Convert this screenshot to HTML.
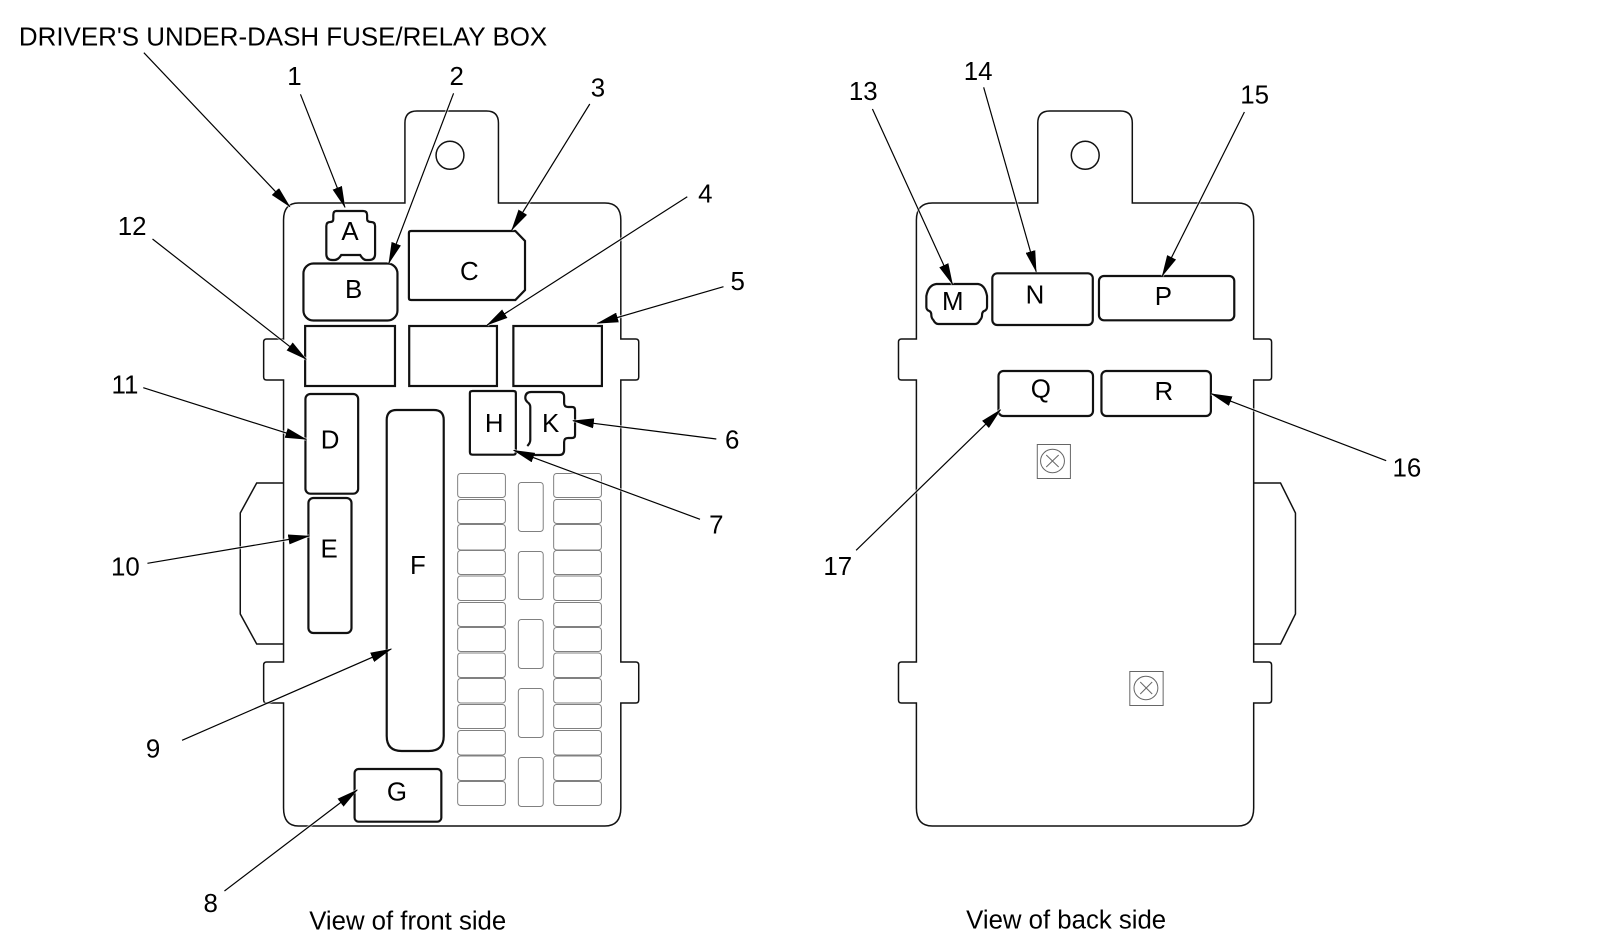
<!DOCTYPE html>
<html>
<head>
<meta charset="utf-8">
<style>
html,body{margin:0;padding:0;background:#fff;}
svg{display:block;}
text{font-family:"Liberation Sans",sans-serif;fill:#000;font-size:26px;text-anchor:middle;}
.st{text-anchor:start;}
.body{fill:none;stroke:#111;stroke-width:1.5;}
.c{fill:none;stroke:#111;stroke-width:2.2;}
.f{fill:none;stroke:#808080;stroke-width:1;}
.s{fill:none;stroke:#666;stroke-width:1;}
.l{stroke:#000;stroke-width:1.2;fill:none;marker-end:url(#ah);}
.h{stroke:#fff;stroke-opacity:.6;stroke-width:3.2;fill:none;}
</style>
</head>
<body>
<svg width="1600" height="941" viewBox="0 0 1600 941" xmlns="http://www.w3.org/2000/svg">
<defs>
<marker id="ah" markerUnits="userSpaceOnUse" markerWidth="22" markerHeight="10" refX="21" refY="5" orient="auto">
<path d="M0,0 L22,5 L0,10 Z" fill="#000"/>
</marker>
</defs>

<!-- FRONT -->
<g transform="scale(0.9949,1)">
<path class="body" d="M300,203 H407 V123 Q407,111 419,111 H489 Q501,111 501,123 V203 H608 Q624,203 624,220 V339 H639 Q642,339 642,342 V377 Q642,380 639,380 H624 V662 H639 Q642,662 642,665 V700 Q642,703 639,703 H624 V808 Q624,826 608,826 H300 Q285,826 285,808 V703 H268 Q265,703 265,700 V665 Q265,662 268,662 H285 V644 H258 L241.500,614 V513 L258,483 H285 V380 H268 Q265,380 265,377 V342 Q265,339 268,339 H285 V220 Q285,203 300,203 Z M285,483 V644"/>
<ellipse class="body" cx="452.300" cy="155.300" rx="14" ry="14"/>

<path class="c" d="M338,211 H365 Q369,211 369,215 V219 Q369,222 373,222 Q377,222 377,226 V254 Q377,260 371,260 H368 Q365,260 362,255 H343 Q340,260 336,260 H334 Q328,260 328,254 V226 Q328,222 332,222 Q335,222 335,219 V215 Q335,211 338,211 Z"/>
<rect class="c" x="305" y="263.500" width="94.500" height="57" rx="10" ry="10"/>
<path class="c" d="M413,231 H518 L527.700,241 V290 L518,300 H413 Q411,300 411,298 V233 Q411,231 413,231 Z"/>
<rect class="c" x="306.700" y="326" width="90.300" height="60"/>
<rect class="c" x="411.300" y="326" width="88.200" height="60"/>
<rect class="c" x="516" y="326" width="89" height="60"/>
<rect class="c" x="307" y="394" width="53" height="99.700" rx="5" ry="5"/>
<rect class="c" x="310" y="498" width="43.300" height="135" rx="5" ry="5"/>
<path class="c" d="M398.700,410 H436 Q446,410 446,420 V736 Q446,751 431,751 H403.700 Q388.700,751 388.700,736 V420 Q388.700,410 398.700,410 Z"/>
<path class="c" d="M475,391 H516 Q518.500,391 518.500,393 V452 Q518.500,454.700 516,454.700 H475 Q472.300,454.700 472.300,452 V393 Q472.300,391 475,391 Z"/>
<path class="c" d="M534,392 H562 Q567,392 567,397 V403 Q567,407 571,407 H575 Q578,407 578,410 V435 Q578,438 575,438 H571 Q567,438 567,442 V450 Q567,455 562,455 H536 M530,446 Q533,443 533,440 V407 Q533,404 530,402 Q528,400 528,398 Q528,392 534,392"/>
<rect class="c" x="356.400" y="769" width="87.200" height="52.700" rx="4" ry="4"/>

<g class="f">
<rect x="460" y="473.500" width="48" height="24" rx="3"/><rect x="556.500" y="473.500" width="48" height="24" rx="3"/>
<rect x="460" y="499.500" width="48" height="24" rx="3"/><rect x="556.500" y="499.500" width="48" height="24" rx="3"/>
<rect x="460" y="524.500" width="48" height="25.500" rx="3"/><rect x="556.500" y="524.500" width="48" height="25.500" rx="3"/>
<rect x="460" y="550.500" width="48" height="24" rx="3"/><rect x="556.500" y="550.500" width="48" height="24" rx="3"/>
<rect x="460" y="576" width="48" height="24.500" rx="3"/><rect x="556.500" y="576" width="48" height="24.500" rx="3"/>
<rect x="460" y="602.500" width="48" height="24" rx="3"/><rect x="556.500" y="602.500" width="48" height="24" rx="3"/>
<rect x="460" y="627.500" width="48" height="24" rx="3"/><rect x="556.500" y="627.500" width="48" height="24" rx="3"/>
<rect x="460" y="653" width="48" height="24.500" rx="3"/><rect x="556.500" y="653" width="48" height="24.500" rx="3"/>
<rect x="460" y="678.500" width="48" height="24.500" rx="3"/><rect x="556.500" y="678.500" width="48" height="24.500" rx="3"/>
<rect x="460" y="704.500" width="48" height="24" rx="3"/><rect x="556.500" y="704.500" width="48" height="24" rx="3"/>
<rect x="460" y="730.500" width="48" height="24.500" rx="3"/><rect x="556.500" y="730.500" width="48" height="24.500" rx="3"/>
<rect x="460" y="756" width="48" height="24.500" rx="3"/><rect x="556.500" y="756" width="48" height="24.500" rx="3"/>
<rect x="460" y="781.500" width="48" height="24" rx="3"/><rect x="556.500" y="781.500" width="48" height="24" rx="3"/>
<rect x="521" y="482.500" width="25" height="49" rx="3"/>
<rect x="521" y="551.500" width="25" height="48" rx="3"/>
<rect x="521" y="619.500" width="25" height="49" rx="3"/>
<rect x="521" y="688.500" width="25" height="49" rx="3"/>
<rect x="521" y="757.500" width="25" height="49" rx="3"/>
</g>

<path class="h" d="M144.600,52.700 L291.300,206.700 M302,94.300 L346.700,207.300 M455.900,93.300 L390.800,263.300 M592.800,104 L514.400,230 M690.800,196.700 L489.700,325 M727.200,286.700 L600.500,323.300 M720,439 L575.900,420.700 M703.600,519.300 L516.400,450.300 M225.600,891 L359,790 M183,740.300 L393.300,649 M148.200,563.300 L310.800,536 M144,387.700 L307.700,439.300 M153.300,239 L307.700,359.300"/>
<line class="l" x1="144.600" y1="52.700" x2="291.300" y2="206.700"/>
<line class="l" x1="302" y1="94.300" x2="346.700" y2="207.300"/>
<line class="l" x1="455.900" y1="93.300" x2="390.800" y2="263.300"/>
<line class="l" x1="592.800" y1="104" x2="514.400" y2="230"/>
<line class="l" x1="690.800" y1="196.700" x2="489.700" y2="325"/>
<line class="l" x1="727.200" y1="286.700" x2="600.500" y2="323.300"/>
<line class="l" x1="720" y1="439" x2="575.900" y2="420.700"/>
<line class="l" x1="703.600" y1="519.300" x2="516.400" y2="450.300"/>
<line class="l" x1="225.600" y1="891" x2="359" y2="790"/>
<line class="l" x1="183" y1="740.300" x2="393.300" y2="649"/>
<line class="l" x1="148.200" y1="563.300" x2="310.800" y2="536"/>
<line class="l" x1="144" y1="387.700" x2="307.700" y2="439.300"/>
<line class="l" x1="153.300" y1="239" x2="307.700" y2="359.300"/>

<text class="st" x="19" y="45.700" textLength="531" lengthAdjust="spacingAndGlyphs">DRIVER'S UNDER-DASH FUSE/RELAY BOX</text>
<text x="296" y="85">1</text>
<text x="459" y="85">2</text>
<text x="601" y="96.700">3</text>
<text x="709" y="202.700">4</text>
<text x="741.500" y="290">5</text>
<text x="736" y="448.300">6</text>
<text x="720" y="533.700">7</text>
<text x="211.800" y="912">8</text>
<text x="153.800" y="757.700">9</text>
<text x="126" y="575.700">10</text>
<text x="125.600" y="393.300">11</text>
<text x="132.800" y="235">12</text>
<text x="351.800" y="240">A</text>
<text x="355.400" y="298">B</text>
<text x="471.800" y="280">C</text>
<text x="331.800" y="448.300">D</text>
<text x="330.800" y="557.700">E</text>
<text x="420" y="574">F</text>
<text x="399" y="800.700">G</text>
<text x="496.800" y="432">H</text>
<text x="553.500" y="432">K</text>
<text class="st" x="310.800" y="929.300" textLength="198" lengthAdjust="spacingAndGlyphs">View of front side</text>
</g>

<!-- BACK -->
<g transform="translate(800,0) scale(0.9949,1) translate(-800,0)">
<path class="body" d="M933,203 H1039 V123 Q1039,111 1051,111 H1122 Q1134,111 1134,123 V203 H1240 Q1256,203 1256,220 V339 H1271 Q1274,339 1274,342 V377 Q1274,380 1271,380 H1256 V483 H1283 L1298,513 V614 L1283,644 H1256 V662 H1271 Q1274,662 1274,665 V700 Q1274,703 1271,703 H1256 V808 Q1256,826 1240,826 H933 Q917,826 917,808 V703 H902 Q899,703 899,700 V665 Q899,662 902,662 H917 V380 H902 Q899,380 899,377 V342 Q899,339 902,339 H917 V220 Q917,203 933,203 Z M1256,483 V644"/>
<ellipse class="body" cx="1086.700" cy="155.300" rx="14" ry="14"/>

<path class="c" d="M937,284 H979 Q986,285 988,296 V307 Q988,310 985,311 Q983,312 983,315 Q983,318 981,320 Q979,324 976,324 H939 Q936,324 934,320 Q932,318 932,315 Q932,312 930,311 Q927,310 927,307 V296 Q929,285 937,284 Z"/>
<rect class="c" x="993.300" y="273.300" width="101" height="51.700" rx="5" ry="5"/>
<rect class="c" x="1100.500" y="276" width="136" height="44.300" rx="5" ry="5"/>
<rect class="c" x="999.500" y="371" width="95" height="45" rx="5" ry="5"/>
<rect class="c" x="1103" y="371" width="110" height="45" rx="5" ry="5"/>

<g class="s">
<rect x="1038.500" y="444.500" width="33.300" height="34"/>
<ellipse cx="1053.800" cy="461" rx="12" ry="11.700"/>
<path d="M1047.500,455 L1060,467 M1060,455 L1047.500,467"/>
<rect x="1131.500" y="671.500" width="33.500" height="34"/>
<ellipse cx="1147.700" cy="688" rx="12" ry="11.700"/>
<path d="M1142,682 L1154,694 M1154,682 L1142,694"/>
</g>

<path class="h" d="M872.800,109 L953.300,284.300 M984.600,87.300 L1037.400,271.700 M1246.700,112 L1164.100,276 M1389.200,460.700 L1213.300,393.700 M856.400,550.300 L1001.500,409.800"/>
<line class="l" x1="872.800" y1="109" x2="953.300" y2="284.300"/>
<line class="l" x1="984.600" y1="87.300" x2="1037.400" y2="271.700"/>
<line class="l" x1="1246.700" y1="112" x2="1164.100" y2="276"/>
<line class="l" x1="1389.200" y1="460.700" x2="1213.300" y2="393.700"/>
<line class="l" x1="856.400" y1="550.300" x2="1001.500" y2="409.800"/>

<text x="863.600" y="100">13</text>
<text x="979" y="80">14</text>
<text x="1257" y="103.300">15</text>
<text x="1410" y="476.700">16</text>
<text x="838" y="575">17</text>
<text x="953.500" y="310">M</text>
<text x="1036.200" y="303.700">N</text>
<text x="1165.200" y="305">P</text>
<text x="1042" y="397.500">Q</text>
<text x="1165.700" y="400">R</text>
<text class="st" x="967" y="928.300" textLength="201" lengthAdjust="spacingAndGlyphs">View of back side</text>
</g>
</svg>
</body>
</html>
